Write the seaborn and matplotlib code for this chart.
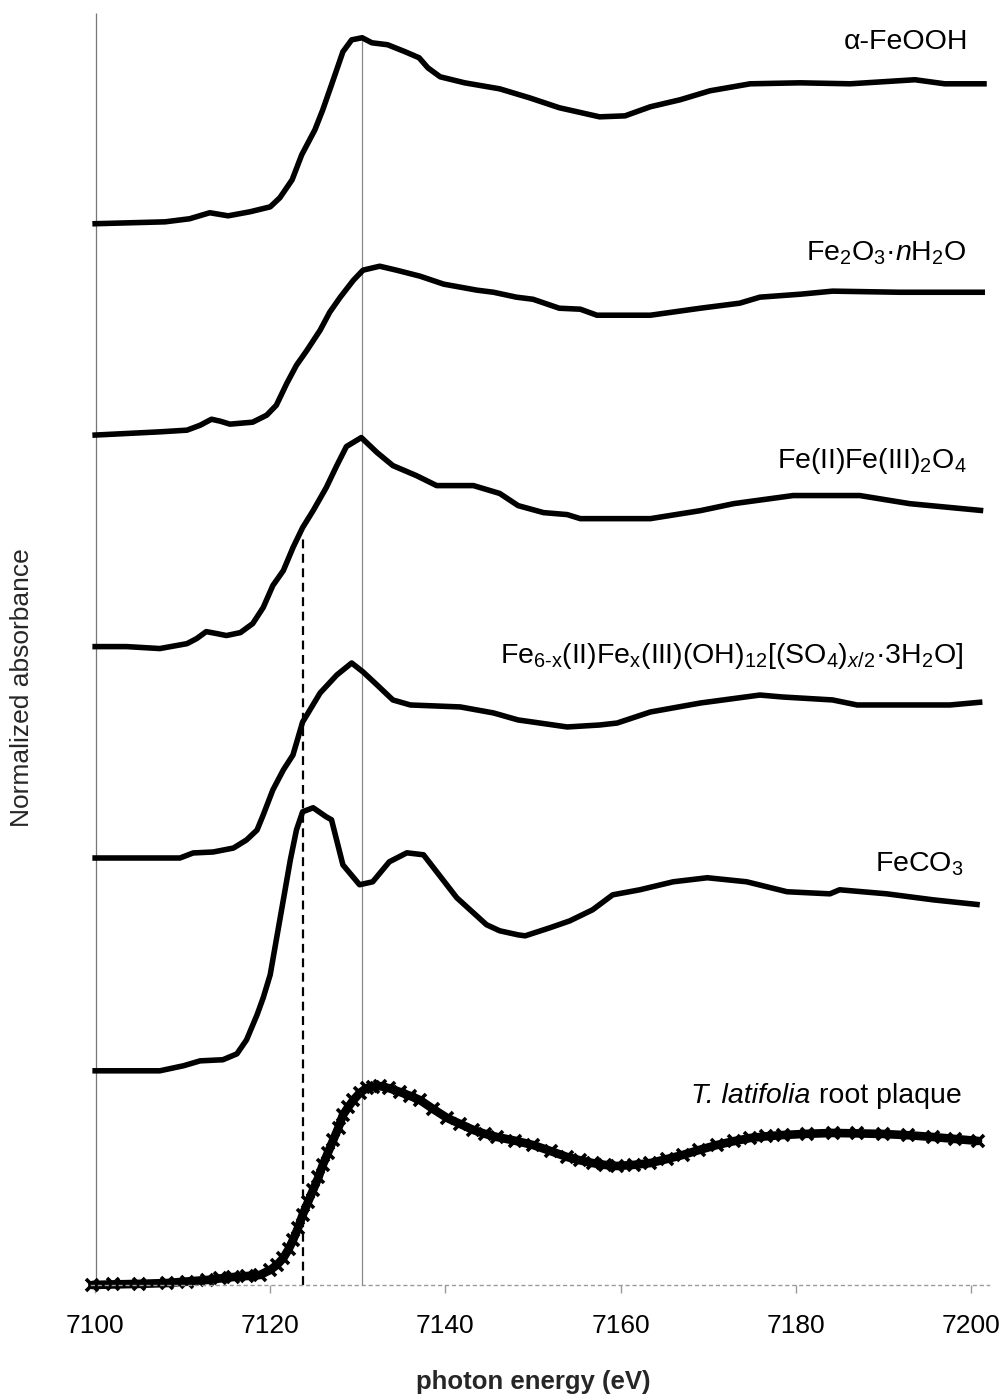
import matplotlib
matplotlib.use("Agg")
import matplotlib.pyplot as plt
import matplotlib.transforms as mtransforms
import seaborn as sns
import pandas as pd

# ---------------- data (normalized absorbance, each relative to its own pre-edge) -------------
feooh_e = [7099.7, 7108, 7110.8, 7113.1, 7115.2, 7117.7, 7120, 7121.1, 7122.5, 7123.6, 7125.1,
           7126, 7127, 7128.3, 7129.3, 7130.5, 7131.6, 7133.4, 7135.4, 7137, 7138, 7139.4,
           7142.2, 7146.2, 7149.6, 7153, 7157.6, 7160.5, 7163.4, 7166.8, 7170.2, 7174.8,
           7180.5, 7186.2, 7193.6, 7197, 7201.8]
feooh_a = [0, 0.014, 0.036, 0.079, 0.057, 0.086, 0.121, 0.186, 0.314, 0.493, 0.671,
           0.814, 0.993, 1.229, 1.314, 1.329, 1.293, 1.279, 1.229, 1.186, 1.114, 1.05,
           1.007, 0.964, 0.9, 0.829, 0.764, 0.771, 0.836, 0.886, 0.95, 1.0,
           1.007, 1.0, 1.029, 1.0, 1.0]

ferri_e = [7099.7, 7107.4, 7110.5, 7112, 7113.3, 7114.3, 7115.4, 7118, 7119.6, 7120.7, 7121.9,
           7123, 7124.2, 7125.7, 7126.8, 7128, 7129.5, 7130.6, 7132.5, 7134.4, 7137.1, 7139.8,
           7143.6, 7145.5, 7148.1, 7150, 7153, 7155.4, 7157.3, 7163.4, 7169.1, 7173.6,
           7175.9, 7180.5, 7184.2, 7191.9, 7201.6]
ferri_a = [0, 0.024, 0.036, 0.071, 0.114, 0.1, 0.079, 0.093, 0.143, 0.214, 0.371,
           0.5, 0.607, 0.75, 0.879, 0.986, 1.107, 1.179, 1.207, 1.179, 1.136, 1.079,
           1.036, 1.021, 0.986, 0.971, 0.907, 0.9, 0.857, 0.857, 0.907, 0.943,
           0.986, 1.007, 1.029, 1.021, 1.021]

magn_e = [7099.7, 7103.6, 7107.4, 7110.5, 7111.6, 7112.7, 7113.9, 7115, 7116.6, 7118, 7119.2,
          7120.3, 7121.5, 7122.6, 7123.7, 7124.9, 7126.4, 7127.6, 7128.7, 7130.4, 7132.2,
          7134, 7136.7, 7139, 7143.2, 7146.2, 7148.3, 7151.2, 7153.9, 7155.4, 7163.4,
          7169.1, 7172.9, 7179.7, 7187.3, 7193, 7201.4]
magn_a = [0, 0, -0.014, 0.021, 0.057, 0.107, 0.093, 0.079, 0.1, 0.164, 0.279,
          0.436, 0.543, 0.707, 0.85, 0.971, 1.136, 1.293, 1.429, 1.493, 1.386,
          1.293, 1.221, 1.15, 1.15, 1.094, 1.007, 0.957, 0.943, 0.914, 0.914,
          0.971, 1.021, 1.079, 1.079, 1.021, 0.971]

grust_e = [7099.7, 7109.7, 7111.2, 7113.5, 7115.8, 7117.3, 7118.5, 7119.2, 7120.3, 7121.5,
           7122.6, 7123.7, 7125.7, 7127.6, 7129.3, 7130.6, 7132.2, 7134, 7136, 7141.7,
           7145.5, 7148.3, 7150, 7153.9, 7157.6, 7159.6, 7163.4, 7169.1, 7175.9, 7178.5,
           7184.2, 7187, 7191.9, 7197.6, 7201.3]
grust_a = [0, 0, 0.036, 0.043, 0.071, 0.129, 0.2, 0.307, 0.486, 0.629,
           0.736, 0.971, 1.179, 1.307, 1.393, 1.329, 1.236, 1.129, 1.093, 1.079,
           1.036, 0.986, 0.971, 0.936, 0.95, 0.964, 1.043, 1.107, 1.164, 1.15,
           1.129, 1.093, 1.093, 1.093, 1.114]

sider_e = [7099.7, 7107.4, 7110.1, 7112, 7114.6, 7116.2, 7117.3, 7118.5, 7119.2, 7120, 7120.7,
           7121.5, 7122.3, 7123, 7123.7, 7124.9, 7126.4, 7127, 7128.3, 7130.2, 7131.7,
           7133.6, 7135.6, 7137.5, 7141.3, 7144.7, 7146.2, 7148.3, 7149.1, 7151.9, 7154.2,
           7156.8, 7159.1, 7162.2, 7166, 7169.9, 7174.4, 7179, 7183.9, 7185, 7190.4,
           7195.7, 7201]
sider_a = [0, 0, 0.036, 0.071, 0.079, 0.121, 0.221, 0.4, 0.521, 0.686, 0.936,
           1.221, 1.507, 1.721, 1.85, 1.879, 1.814, 1.793, 1.471, 1.329, 1.35,
           1.493, 1.557, 1.543, 1.236, 1.043, 1.0, 0.971, 0.964, 1.021, 1.071,
           1.15, 1.257, 1.293, 1.35, 1.379, 1.35, 1.279, 1.264, 1.293, 1.264,
           1.221, 1.186]

plaque_e = [7099.7, 7102, 7105, 7108.2, 7110.5, 7112.8, 7114.3, 7115.8, 7117.3, 7118.8, 7120,
            7120.8, 7121.5, 7122.1, 7122.6, 7123.2, 7123.7, 7124.3, 7124.9, 7125.5, 7126,
            7126.6, 7127.2, 7127.8, 7128.3, 7128.9, 7129.5, 7130.2, 7131, 7131.7, 7132.5,
            7133.6, 7134.8, 7136, 7137.1, 7138.6, 7140.2, 7141.7, 7143.2, 7144.5, 7145.9,
            7148, 7150, 7152, 7153.9, 7155.4, 7156.8, 7158.2, 7159.6, 7161.5, 7163.4,
            7165.3, 7167.1, 7169, 7171, 7172.9, 7174.8, 7176.6, 7178.5, 7181.3, 7184.2,
            7187, 7189.9, 7192.8, 7195.7, 7198.2, 7200.8]
plaque_a = [0, 0.004, 0.008, 0.014, 0.025, 0.036, 0.047, 0.057, 0.064, 0.071, 0.107,
            0.145, 0.193, 0.255, 0.321, 0.41, 0.5, 0.59, 0.679, 0.768, 0.857,
            0.946, 1.036, 1.125, 1.214, 1.27, 1.321, 1.37, 1.407, 1.416, 1.421,
            1.405, 1.379, 1.35, 1.321, 1.257, 1.193, 1.15, 1.107, 1.08, 1.057,
            1.03, 1.0, 0.957, 0.914, 0.89, 0.871, 0.858, 0.85, 0.858, 0.871,
            0.9, 0.929, 0.965, 1.0, 1.027, 1.05, 1.062, 1.071, 1.08, 1.086,
            1.083, 1.079, 1.07, 1.057, 1.043, 1.029]

labels = [
    "\u03b1-FeOOH",
    r"Fe$_2$O$_3$" + "\u00b7" + r"$n$H$_2$O",
    r"Fe(II)Fe(III)$_2$O$_4$",
    r"Fe$_{\mathrm{6\text{-}x}}$(II)Fe$_{\mathrm{x}}$(III)(OH)$_{12}$[(SO$_4$)$_{x/2}$"
    + "\u00b7" + r"3H$_2$O]",
    r"FeCO$_3$",
    "root plaque",
]
plaque_species = "T. latifolia"
energies = [feooh_e, ferri_e, magn_e, grust_e, sider_e, plaque_e]
absorb = [feooh_a, ferri_a, magn_a, grust_a, sider_a, plaque_a]
offsets = [7.58, 6.07, 4.56, 3.05, 1.53, 0.0]
label_y = [8.83, 7.32, 5.836, 4.443, 2.95, 1.30]
label_x = [7199.66, 7199.5, 7199.5, 7199.1, 7199.1, 7198.9]

xticks = [7100, 7120, 7140, 7160, 7180, 7200]
edge_line = 7130.5      # thin vertical guide
pre_edge_line = 7123.7  # dashed guide

# ---------------- style -------------
sns.set_theme(style="white")
plt.rcParams['font.family'] = ['Liberation Sans', 'DejaVu Sans']
plt.rcParams['mathtext.fontset'] = 'custom'
plt.rcParams['mathtext.rm'] = 'Liberation Sans'
plt.rcParams['mathtext.it'] = 'Liberation Sans:italic'
plt.rcParams['mathtext.bf'] = 'Liberation Sans:bold'

W, H = 1006, 1395
fig = plt.figure(figsize=(W / 100, H / 100), dpi=100)
px = 8.76
x0 = 95 - 0.5 * px
x1 = 95 + 102 * px
ax = fig.add_axes([x0 / W, (H - 1285) / H, (x1 - x0) / W, (1285 - 13) / H])
ymax = (1285 - 13) / 140.0
ax.set_xlim(7099.5, 7202)
ax.set_ylim(0, ymax)

frames = []
for i, (e, a) in enumerate(zip(energies, absorb)):
    frames.append(pd.DataFrame({"energy": e,
                                "absorbance": [v + offsets[i] for v in a],
                                "sample": labels[i]}))

FS = 20.5
texts = []
for i, df in enumerate(frames):
    if i < 5:
        sns.lineplot(data=df, x="energy", y="absorbance", ax=ax, color="black",
                     lw=4.0, sort=False, estimator=None, legend=False,
                     solid_joinstyle="round", solid_capstyle="butt", clip_on=False)
    else:
        sns.lineplot(data=df, x="energy", y="absorbance", ax=ax, color="black",
                     lw=6.2, sort=False, estimator=None, legend=False,
                     marker="x", markersize=9, markeredgewidth=2.6,
                     markeredgecolor="black", clip_on=False)
    texts.append(ax.text(label_x[i], label_y[i], labels[i], ha="right", va="baseline",
                         fontsize=FS, color="black"))

# italic species name placed just left of "root plaque"
fig.canvas.draw()
rend = fig.canvas.get_renderer()
bb = texts[5].get_window_extent(renderer=rend)
space_px = 0.278 * FS * 100 / 72.0
trans = mtransforms.offset_copy(ax.transData, fig=fig,
                                x=-(bb.width + space_px) * 72.0 / 100, y=0, units="points")
ax.text(label_x[5], label_y[5], plaque_species, ha="right", va="baseline",
        fontsize=FS, fontstyle="italic", color="black", transform=trans)

# guide lines
ax.vlines(7100.1, 0, ymax, color="#777777", lw=0.9, zorder=0)
ax.vlines(edge_line, 0, (1285 - 40) / 140.0, color="#888888", lw=0.9, zorder=0)
ax.vlines(pre_edge_line, 0, (1285 - 535) / 140.0, color="black", lw=1.6,
          linestyles=(0, (4, 2.5)), zorder=1)

# axes styling
for s in ["top", "right", "left"]:
    ax.spines[s].set_visible(False)
ax.spines["bottom"].set_color("#9a9a9a")
ax.spines["bottom"].set_linewidth(1.0)
ax.spines["bottom"].set_linestyle((0, (2, 3)))
ax.set_yticks([])
ax.set_xticks(xticks)
ax.set_xticklabels([str(t) for t in xticks])
ax.tick_params(axis="x", direction="out", length=6, width=1, color="#9a9a9a",
               labelsize=19, pad=15, labelcolor="black", bottom=True)
ax.set_xlabel("")
ax.set_ylabel("")

fig.text(533 / W, 1 - 1382 / H, "photon energy (eV)", ha="center", va="center",
         fontsize=18.5, fontweight="bold")
fig.text(22 / W, 1 - 688 / H, "Normalized absorbance", ha="center", va="center",
         rotation=90, fontsize=19)

fig.savefig("out.png", dpi=100, facecolor="white")
